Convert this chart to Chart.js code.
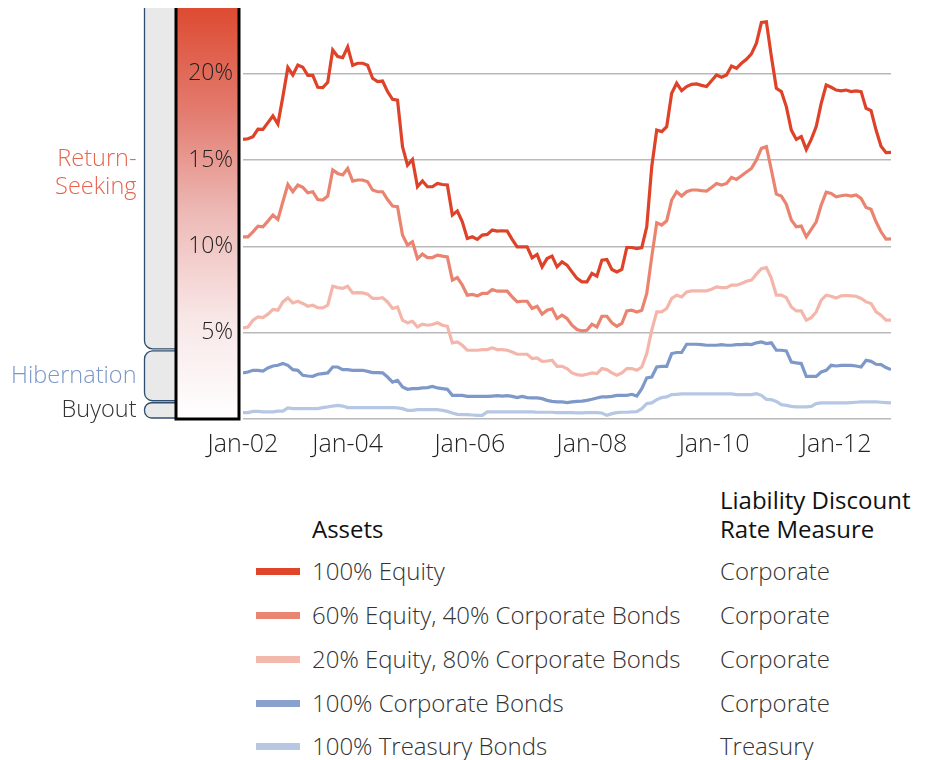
<!DOCTYPE html>
<html>
<head>
<meta charset="utf-8">
<script src="https://cdn.jsdelivr.net/npm/chart.js@4.4.1/dist/chart.umd.min.js"></script>
<style>
  html, body { margin: 0; padding: 0; background: #fff; }
  body { width: 930px; height: 760px; position: relative; overflow: hidden; font-family: "Open Sans", Lato, sans-serif; }
  #wrap { position: absolute; left: 0; top: 0; width: 930px; height: 470px; }
  .lg { position: absolute; font-size: 24px; line-height: 30px; height: 30px; color: #333; font-weight: 300; white-space: nowrap; }
  .hd { color: #111; font-weight: 400; }
  .sw { position: absolute; left: 256px; width: 44px; height: 7px; }
</style>
</head>
<body>
<div id="wrap"><canvas id="riskChart" width="930" height="470"></canvas></div>
<div id="legend"></div>
<script>
// ===== data (monthly, funded-status volatility %) =====
const equity100 = [
  16.19,16.23,16.35,16.79,16.77,17.16,17.55,17.08,18.67,20.35,
  19.92,20.50,20.37,19.90,19.90,19.21,19.19,19.50,21.37,20.99,
  20.93,21.55,20.48,20.60,20.60,20.48,19.73,19.54,19.57,18.96,
  18.51,18.47,15.77,14.70,15.03,13.45,13.78,13.45,13.45,13.64,
  13.58,13.55,11.81,12.04,11.42,10.45,10.55,10.40,10.65,10.69,
  10.94,10.88,10.90,10.88,10.40,9.97,9.97,9.97,9.33,9.53,
  8.81,9.29,9.43,8.81,9.10,8.91,8.52,8.14,7.94,7.94,
  8.43,8.27,9.20,9.24,8.66,8.52,8.66,9.93,9.93,9.87,
  9.93,11.13,14.61,16.73,16.64,16.93,18.86,19.44,19.01,19.25,
  19.38,19.40,19.32,19.25,19.59,19.92,19.79,19.92,20.44,20.31,
  20.60,20.83,21.14,21.76,22.96,23.00,20.99,19.15,18.96,18.09,
  16.73,16.19,16.35,15.61,16.19,16.93,18.28,19.34,19.21,19.05,
  19.00,19.05,18.96,19.00,18.96,17.99,17.86,16.73,15.80,15.42,
  15.44
];
const equity60 = [
  10.55,10.55,10.84,11.17,11.13,11.46,11.81,11.56,12.58,13.58,
  13.16,13.55,13.41,13.10,13.16,12.71,12.68,12.91,14.42,14.22,
  14.13,14.51,13.78,13.84,13.84,13.74,13.26,13.16,13.16,12.71,
  12.33,12.29,10.65,10.07,10.26,9.29,9.55,9.35,9.35,9.49,
  9.43,9.39,8.04,8.19,7.75,7.17,7.21,7.13,7.27,7.27,
  7.50,7.40,7.40,7.40,7.07,6.78,6.82,6.82,6.40,6.53,
  6.07,6.30,6.38,5.82,6.01,5.82,5.43,5.18,5.10,5.14,
  5.49,5.33,5.95,5.95,5.57,5.37,5.53,6.26,6.30,6.20,
  6.30,7.27,9.39,11.36,11.23,11.48,12.68,13.16,12.91,13.16,
  13.26,13.26,13.22,13.20,13.41,13.64,13.55,13.64,13.99,13.87,
  14.09,14.30,14.51,15.00,15.67,15.77,14.42,13.02,12.91,12.44,
  11.52,11.13,11.17,10.55,10.98,11.42,12.39,13.14,13.06,12.87,
  12.93,12.97,12.91,12.97,12.77,12.25,12.14,11.42,10.84,10.42,
  10.43
];
const equity20 = [
  5.28,5.33,5.72,5.91,5.87,6.07,6.34,6.30,6.78,7.01,
  6.72,6.82,6.69,6.53,6.59,6.45,6.43,6.59,7.69,7.61,
  7.56,7.69,7.30,7.32,7.30,7.23,6.98,6.98,7.03,6.78,
  6.40,6.49,5.72,5.57,5.66,5.33,5.49,5.43,5.47,5.57,
  5.43,5.37,4.41,4.46,4.27,3.98,3.98,3.98,4.02,4.02,
  4.12,4.02,4.02,3.98,3.88,3.75,3.75,3.75,3.50,3.54,
  3.34,3.36,3.40,3.05,3.05,2.92,2.67,2.57,2.53,2.59,
  2.67,2.63,2.92,2.86,2.67,2.53,2.67,2.92,2.92,2.82,
  3.01,3.79,5.14,6.20,6.20,6.40,6.98,7.17,7.07,7.36,
  7.42,7.42,7.42,7.42,7.52,7.65,7.61,7.61,7.75,7.75,
  7.85,7.98,8.04,8.39,8.70,8.77,8.14,7.17,7.17,7.03,
  6.49,6.26,6.26,5.72,5.87,6.20,6.88,7.17,7.11,7.01,
  7.13,7.15,7.13,7.11,6.98,6.78,6.69,6.20,6.01,5.72,
  5.72
];
const corpBonds = [
  2.67,2.72,2.82,2.82,2.78,2.96,3.07,3.11,3.21,3.11,
  2.86,2.82,2.53,2.49,2.47,2.59,2.63,2.67,3.01,3.01,
  2.86,2.86,2.82,2.82,2.82,2.76,2.69,2.69,2.67,2.43,
  2.14,2.24,1.86,1.72,1.76,1.76,1.80,1.82,1.89,1.80,
  1.76,1.72,1.37,1.37,1.37,1.31,1.31,1.31,1.31,1.31,
  1.33,1.35,1.33,1.35,1.31,1.24,1.31,1.24,1.22,1.22,
  1.18,1.08,1.02,0.99,0.99,0.95,0.99,1.02,1.04,1.08,
  1.14,1.22,1.28,1.28,1.31,1.37,1.37,1.37,1.43,1.33,
  1.76,2.38,2.43,3.01,3.05,3.05,3.79,3.85,3.85,4.33,
  4.33,4.33,4.31,4.27,4.27,4.27,4.31,4.27,4.27,4.31,
  4.31,4.33,4.31,4.41,4.46,4.37,4.41,3.98,3.98,3.94,
  3.30,3.25,3.21,2.47,2.47,2.47,2.72,2.82,3.11,3.07,
  3.11,3.11,3.11,3.07,3.01,3.40,3.34,3.17,3.15,2.98,
  2.86
];
const treasuryBonds = [
  0.37,0.37,0.44,0.44,0.41,0.41,0.41,0.46,0.46,0.64,
  0.60,0.60,0.60,0.60,0.60,0.60,0.66,0.70,0.75,0.79,
  0.75,0.66,0.66,0.66,0.66,0.66,0.66,0.66,0.66,0.66,
  0.66,0.64,0.60,0.50,0.50,0.54,0.54,0.54,0.54,0.54,
  0.50,0.44,0.35,0.27,0.25,0.25,0.23,0.21,0.21,0.41,
  0.41,0.41,0.41,0.41,0.41,0.41,0.41,0.41,0.41,0.39,
  0.39,0.39,0.39,0.37,0.37,0.37,0.37,0.35,0.35,0.37,
  0.37,0.37,0.35,0.21,0.31,0.37,0.39,0.39,0.41,0.43,
  0.60,0.89,0.93,1.12,1.24,1.28,1.41,1.43,1.45,1.45,
  1.45,1.45,1.45,1.45,1.45,1.45,1.45,1.45,1.45,1.41,
  1.41,1.41,1.41,1.47,1.37,1.14,1.12,1.02,0.83,0.79,
  0.73,0.70,0.70,0.70,0.73,0.89,0.93,0.93,0.93,0.93,
  0.93,0.93,0.95,0.97,0.99,0.99,0.99,0.99,0.97,0.95,
  0.93
];

const seriesNames = ['100% Equity', '60% Equity, 40% Corporate Bonds', '20% Equity, 80% Corporate Bonds', '100% Corporate Bonds', '100% Treasury Bonds'];
const discountMeasure = ['Corporate', 'Corporate', 'Corporate', 'Corporate', 'Treasury'];

// x tick labels and where they sit (month index)
const tickLabels = ['Jan-02', 'Jan-04', 'Jan-06', 'Jan-08', 'Jan-10', 'Jan-12'];
const tickPos = [0, 21, 45.5, 70, 94.5, 119];
const yTicks = [0, 5, 10, 15, 20];

// strategy zones on the left (value ranges, %)
const zoneLabels = [['Return-', 'Seeking'], ['Hibernation'], ['Buyout']];
const zoneLow = [4, 1, 0];
const zoneHigh = [24.5, 4, 1];

// styles
const lineColors = ['#de4228', '#ea8470', '#f4b6aa', '#7e98c9', '#b6c7e4'];
const swatchColors = ['#e0452b', '#ea8572', '#f4b9ad', '#8aa1cd', '#b8c7e3'];
const zoneTextColors = ['#e8644e', '#7b96c9', '#333333'];
const FONT = '"Open Sans", Lato, sans-serif';

Chart.defaults.font.family = FONT;

const allSeries = [equity100, equity60, equity20, corpBonds, treasuryBonds];

// 왼쪽 그라데이션 막대 + 구간 괄호
const sideBar = {
    id: 'sideBar',
    beforeDraw(chart) {
        const { ctx, chartArea } = chart;
        const y = chart.scales.y;
        const top = chartArea.top;
        const bottom = y.getPixelForValue(0);
        const barR = chartArea.left - 4;
        const barL = barR - 63;

        ctx.save();
        ctx.beginPath();
        ctx.rect(0, top, chart.width, chart.height - top);
        ctx.clip();

        // brackets
        const bl = barL - 31.5;
        zoneLabels.forEach((lines, i) => {
            const t = y.getPixelForValue(zoneHigh[i]) + 1;
            const b = y.getPixelForValue(zoneLow[i]) - 1;
            const r = Math.min(8, (b - t) / 2 - 0.5);
            const path = () => {
                ctx.beginPath();
                ctx.moveTo(barL, t);
                ctx.lineTo(bl + r, t);
                ctx.arcTo(bl, t, bl, t + r, r);
                ctx.lineTo(bl, b - r);
                ctx.arcTo(bl, b, bl + r, b, r);
                ctx.lineTo(barL, b);
            };
            path();
            ctx.closePath();
            ctx.fillStyle = '#e9e9e9';
            ctx.fill();
            path();
            ctx.strokeStyle = '#2f4d6e';
            ctx.lineWidth = 1.3;
            ctx.stroke();

            // labels
            const mid = (t + b) / 2;
            ctx.font = `300 23.5px ${FONT}`;
            ctx.fillStyle = zoneTextColors[i];
            ctx.textAlign = 'right';
            ctx.textBaseline = 'middle';
            lines.forEach((s, k) => {
                ctx.fillText(s, bl - 8, mid + (k - (lines.length - 1) / 2) * 28);
            });
        });

        // gradient bar
        const grad = ctx.createLinearGradient(0, top, 0, bottom);
        grad.addColorStop(0, '#dd4b32');
        grad.addColorStop(0.25, '#e37b6f');
        grad.addColorStop(0.5, '#edbab6');
        grad.addColorStop(0.75, '#f8e6e6');
        grad.addColorStop(1, '#ffffff');
        ctx.fillStyle = grad;
        ctx.fillRect(barL, top, barR - barL, bottom - top);
        ctx.beginPath();
        ctx.moveTo(barL, top);
        ctx.lineTo(barL, bottom);
        ctx.lineTo(barR, bottom);
        ctx.lineTo(barR, top);
        ctx.strokeStyle = '#000';
        ctx.lineWidth = 3;
        ctx.stroke();
        ctx.restore();
    }
};

new Chart(document.getElementById('riskChart'), {
    type: 'line',
    data: {
        datasets: allSeries.map((arr, k) => ({
            label: seriesNames[k],
            data: arr.map((v, i) => ({ x: i, y: v })),
            borderColor: lineColors[k],
            borderWidth: 3.2,
            pointRadius: 0,
            tension: 0,
            fill: false,
            order: k
        }))
    },
    options: {
        responsive: false,
        animation: false,
        layout: { padding: { top: 8, right: 39, bottom: 1, left: 0 } },
        plugins: { legend: { display: false }, tooltip: { enabled: false } },
        scales: {
            x: {
                type: 'linear',
                min: 0,
                max: equity100.length - 1,
                afterBuildTicks: s => { s.ticks = tickPos.map(v => ({ value: v })); },
                afterFit: s => { s.height = 50; s.paddingLeft = 0; s.paddingRight = 0; },
                grid: { display: false },
                border: { display: false },
                ticks: {
                    autoSkip: false,
                    maxRotation: 0,
                    padding: 3,
                    color: '#222',
                    font: { size: 25, weight: 300 },
                    callback: (v, i) => tickLabels[i]
                }
            },
            y: {
                min: 0,
                max: 23.8,
                afterBuildTicks: s => { s.ticks = yTicks.map(v => ({ value: v })); },
                afterFit: s => { s.width = 243; s.paddingTop = 0; s.paddingBottom = 0; },
                grid: { color: '#b9b9b9', lineWidth: 1.5, drawTicks: false },
                border: { display: false },
                ticks: {
                    padding: 10,
                    color: '#222',
                    font: { size: 23, weight: 300 },
                    callback: v => v === 0 ? '' : v + '%'
                }
            }
        }
    },
    plugins: [sideBar]
});

// ===== legend (HTML) =====
const legend = document.getElementById('legend');
const rowY = [571, 615, 659, 703, 746];
let html = '';
html += '<div class="lg hd" style="left:312px;top:514px">Assets</div>';
html += '<div class="lg hd" style="left:720px;top:485px">Liability Discount</div>';
html += '<div class="lg hd" style="left:720px;top:514px">Rate Measure</div>';
seriesNames.forEach((name, k) => {
    const cy = rowY[k];
    html += `<div class="sw" style="top:${cy - 3.5}px;background:${swatchColors[k]}"></div>`;
    html += `<div class="lg" style="left:312px;top:${cy - 15}px">${name}</div>`;
    html += `<div class="lg" style="left:720px;top:${cy - 15}px">${discountMeasure[k]}</div>`;
});
legend.innerHTML = html;
</script>
</body>
</html>
